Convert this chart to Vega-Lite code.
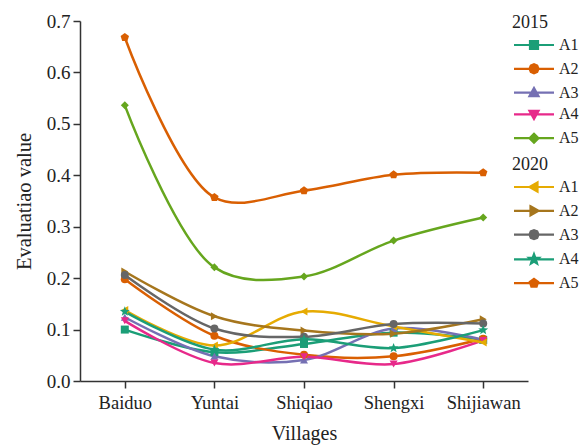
{
  "$schema": "https://vega.github.io/schema/vega-lite/v6.json",
  "width": 448,
  "height": 360,
  "autosize": {"type": "none"},
  "padding": {"left": 80, "top": 21, "right": 54, "bottom": 66},
  "background": "white",
  "config": {
    "view": {"stroke": null},
    "font": "Liberation Serif, Times New Roman, serif",
    "axis": {
      "labelFont": "Liberation Serif, Times New Roman, serif",
      "titleFont": "Liberation Serif, Times New Roman, serif",
      "labelColor": "#222",
      "titleColor": "#222",
      "titleFontWeight": "normal",
      "domainColor": "#333",
      "tickColor": "#333",
      "domainWidth": 1.5,
      "tickWidth": 1.5,
      "grid": false
    },
    "legend": {
      "titleFont": "Liberation Serif, Times New Roman, serif",
      "labelFont": "Liberation Serif, Times New Roman, serif",
      "titleFontWeight": "normal",
      "titleColor": "#222",
      "labelColor": "#222"
    }
  },
  "data": {
    "values": [
      {"village": "Baiduo", "year": 2015, "series": "A1", "value": 0.100},
      {"village": "Yuntai", "year": 2015, "series": "A1", "value": 0.056},
      {"village": "Shiqiao", "year": 2015, "series": "A1", "value": 0.072},
      {"village": "Shengxi", "year": 2015, "series": "A1", "value": 0.094},
      {"village": "Shijiawan", "year": 2015, "series": "A1", "value": 0.080},
      {"village": "Baiduo", "year": 2015, "series": "A2", "value": 0.198},
      {"village": "Yuntai", "year": 2015, "series": "A2", "value": 0.088},
      {"village": "Shiqiao", "year": 2015, "series": "A2", "value": 0.051},
      {"village": "Shengxi", "year": 2015, "series": "A2", "value": 0.048},
      {"village": "Shijiawan", "year": 2015, "series": "A2", "value": 0.082},
      {"village": "Baiduo", "year": 2015, "series": "A3", "value": 0.124},
      {"village": "Yuntai", "year": 2015, "series": "A3", "value": 0.048},
      {"village": "Shiqiao", "year": 2015, "series": "A3", "value": 0.041},
      {"village": "Shengxi", "year": 2015, "series": "A3", "value": 0.102},
      {"village": "Shijiawan", "year": 2015, "series": "A3", "value": 0.080},
      {"village": "Baiduo", "year": 2015, "series": "A4", "value": 0.117},
      {"village": "Yuntai", "year": 2015, "series": "A4", "value": 0.035},
      {"village": "Shiqiao", "year": 2015, "series": "A4", "value": 0.047},
      {"village": "Shengxi", "year": 2015, "series": "A4", "value": 0.033},
      {"village": "Shijiawan", "year": 2015, "series": "A4", "value": 0.079},
      {"village": "Baiduo", "year": 2015, "series": "A5", "value": 0.536},
      {"village": "Yuntai", "year": 2015, "series": "A5", "value": 0.221},
      {"village": "Shiqiao", "year": 2015, "series": "A5", "value": 0.203},
      {"village": "Shengxi", "year": 2015, "series": "A5", "value": 0.273},
      {"village": "Shijiawan", "year": 2015, "series": "A5", "value": 0.318},
      {"village": "Baiduo", "year": 2020, "series": "A1", "value": 0.138},
      {"village": "Yuntai", "year": 2020, "series": "A1", "value": 0.069},
      {"village": "Shiqiao", "year": 2020, "series": "A1", "value": 0.135},
      {"village": "Shengxi", "year": 2020, "series": "A1", "value": 0.106},
      {"village": "Shijiawan", "year": 2020, "series": "A1", "value": 0.075},
      {"village": "Baiduo", "year": 2020, "series": "A2", "value": 0.213},
      {"village": "Yuntai", "year": 2020, "series": "A2", "value": 0.126},
      {"village": "Shiqiao", "year": 2020, "series": "A2", "value": 0.098},
      {"village": "Shengxi", "year": 2020, "series": "A2", "value": 0.092},
      {"village": "Shijiawan", "year": 2020, "series": "A2", "value": 0.120},
      {"village": "Baiduo", "year": 2020, "series": "A3", "value": 0.206},
      {"village": "Yuntai", "year": 2020, "series": "A3", "value": 0.102},
      {"village": "Shiqiao", "year": 2020, "series": "A3", "value": 0.086},
      {"village": "Shengxi", "year": 2020, "series": "A3", "value": 0.111},
      {"village": "Shijiawan", "year": 2020, "series": "A3", "value": 0.112},
      {"village": "Baiduo", "year": 2020, "series": "A4", "value": 0.135},
      {"village": "Yuntai", "year": 2020, "series": "A4", "value": 0.061},
      {"village": "Shiqiao", "year": 2020, "series": "A4", "value": 0.081},
      {"village": "Shengxi", "year": 2020, "series": "A4", "value": 0.064},
      {"village": "Shijiawan", "year": 2020, "series": "A4", "value": 0.099},
      {"village": "Baiduo", "year": 2020, "series": "A5", "value": 0.668},
      {"village": "Yuntai", "year": 2020, "series": "A5", "value": 0.357},
      {"village": "Shiqiao", "year": 2020, "series": "A5", "value": 0.370},
      {"village": "Shengxi", "year": 2020, "series": "A5", "value": 0.401},
      {"village": "Shijiawan", "year": 2020, "series": "A5", "value": 0.405}
    ]
  },
  "encoding": {
    "x": {
      "field": "village",
      "type": "ordinal",
      "scale": {"type": "point", "domain": ["Baiduo", "Yuntai", "Shiqiao", "Shengxi", "Shijiawan"], "padding": 0.5},
      "axis": {"title": "Villages", "labelAngle": 0, "labelFontSize": 18.5, "titleFontSize": 20, "tickSize": 7, "labelPadding": 5, "titlePadding": 12}
    },
    "y": {
      "field": "value",
      "type": "quantitative",
      "scale": {"domain": [0, 0.7], "nice": false},
      "axis": {"title": "Evaluatiao value", "values": [0, 0.1, 0.2, 0.3, 0.4, 0.5, 0.6, 0.7], "format": ".1f", "labelFontSize": 19, "titleFontSize": 20.5, "tickSize": 7, "labelPadding": 3, "titlePadding": 12}
    }
  },
  "layer": [
    {
      "transform": [{"filter": "datum.year == 2015"}],
      "layer": [
        {
          "mark": {"type": "line", "interpolate": "catmull-rom", "strokeWidth": 2.5},
          "encoding": {
            "color": {
              "field": "series",
              "type": "nominal",
              "scale": {"domain": ["A1", "A2", "A3", "A4", "A5"], "range": ["#1b9e77", "#d95f02", "#7570b3", "#e7298a", "#66a61e"]},
              "legend": {
                "title": "2015",
                "orient": "none",
                "legendX": 432,
                "legendY": -7,
                "titleFontSize": 18,
                "labelFontSize": 16,
                "symbolSize": 100,
                "symbolOffset": 14,
                "labelOffset": 17,
                "rowPadding": 5.8,
                "titlePadding": 5,
                "encode": {
                  "symbols": {
                    "update": {
                      "shape": {"signal": "datum.value === 'A1' ? 'M-4,0H4M-0.8,-0.8H0.8V0.8H-0.8Z' : datum.value === 'A2' ? 'M-4,0H4M0.9,0L0.64,0.64L0,0.9L-0.64,0.64L-0.9,0L-0.64,-0.64L0,-0.9L0.64,-0.64Z' : datum.value === 'A3' ? 'M-4,0H4M-0.9,0.7L0,-0.9L0.9,0.7Z' : datum.value === 'A4' ? 'M-4,0H4M-0.9,-0.7L0,0.9L0.9,-0.7Z' : 'M-4,0H4M0,-0.9L0.9,0L0,0.9L-0.9,0Z'"},
                      "fill": {"signal": "datum.value === 'A1' ? '#1b9e77' : datum.value === 'A2' ? '#d95f02' : datum.value === 'A3' ? '#7570b3' : datum.value === 'A4' ? '#e7298a' : '#66a61e'"},
                      "stroke": {"signal": "datum.value === 'A1' ? '#1b9e77' : datum.value === 'A2' ? '#d95f02' : datum.value === 'A3' ? '#7570b3' : datum.value === 'A4' ? '#e7298a' : '#66a61e'"},
                      "strokeWidth": {"value": 2.2},
                      "opacity": {"value": 1}
                    }
                  }
                }
              }
            }
          }
        },
        {
          "mark": {"type": "point", "filled": true, "size": 64, "opacity": 1},
          "encoding": {
            "color": {
              "field": "series",
              "type": "nominal",
              "scale": {"domain": ["A1", "A2", "A3", "A4", "A5"], "range": ["#1b9e77", "#d95f02", "#7570b3", "#e7298a", "#66a61e"]},
              "legend": null
            },
            "shape": {
              "field": "series",
              "type": "nominal",
              "scale": {"domain": ["A1", "A2", "A3", "A4", "A5"], "range": ["square", "circle", "triangle-up", "triangle-down", "diamond"]},
              "legend": null
            }
          }
        }
      ],
      "resolve": {"scale": {"color": "independent"}}
    },
    {
      "transform": [{"filter": "datum.year == 2020"}],
      "layer": [
        {
          "mark": {"type": "line", "interpolate": "catmull-rom", "strokeWidth": 2.5},
          "encoding": {
            "color": {
              "field": "series",
              "type": "nominal",
              "scale": {"domain": ["A1", "A2", "A3", "A4", "A5"], "range": ["#e6ab02", "#a6761d", "#666666", "#1b9e77", "#d95f02"]},
              "legend": {
                "title": "2020",
                "orient": "none",
                "legendX": 432,
                "legendY": 135,
                "titleFontSize": 18,
                "labelFontSize": 16,
                "symbolSize": 100,
                "symbolOffset": 14,
                "labelOffset": 17,
                "rowPadding": 5.8,
                "titlePadding": 5,
                "encode": {
                  "symbols": {
                    "update": {
                      "shape": {"signal": "datum.value === 'A1' ? 'M-4,0H4M0.7,-0.9L-0.9,0L0.7,0.9Z' : datum.value === 'A2' ? 'M-4,0H4M-0.7,-0.9L0.9,0L-0.7,0.9Z' : datum.value === 'A3' ? 'M-4,0H4M0.9,0L0.64,0.64L0,0.9L-0.64,0.64L-0.9,0L-0.64,-0.64L0,-0.9L0.64,-0.64Z' : datum.value === 'A4' ? 'M-4,0H4M0,-1.04L0.26,-0.36L0.99,-0.32L0.42,0.14L0.61,0.84L0,0.44L-0.61,0.84L-0.42,0.14L-0.99,-0.32L-0.26,-0.36Z' : 'M-4,0H4M0,-0.88L0.84,-0.27L0.52,0.71L-0.52,0.71L-0.84,-0.27Z'"},
                      "fill": {"signal": "datum.value === 'A1' ? '#e6ab02' : datum.value === 'A2' ? '#a6761d' : datum.value === 'A3' ? '#666666' : datum.value === 'A4' ? '#1b9e77' : '#d95f02'"},
                      "stroke": {"signal": "datum.value === 'A1' ? '#e6ab02' : datum.value === 'A2' ? '#a6761d' : datum.value === 'A3' ? '#666666' : datum.value === 'A4' ? '#1b9e77' : '#d95f02'"},
                      "strokeWidth": {"value": 2.2},
                      "opacity": {"value": 1}
                    }
                  }
                }
              }
            }
          }
        },
        {
          "mark": {"type": "point", "filled": true, "size": 64, "opacity": 1},
          "encoding": {
            "color": {
              "field": "series",
              "type": "nominal",
              "scale": {"domain": ["A1", "A2", "A3", "A4", "A5"], "range": ["#e6ab02", "#a6761d", "#666666", "#1b9e77", "#d95f02"]},
              "legend": null
            },
            "shape": {
              "field": "series",
              "type": "nominal",
              "scale": {"domain": ["A1", "A2", "A3", "A4", "A5"], "range": ["triangle-left", "triangle-right", "circle", "M0,-1.3L0.32,-0.45L1.24,-0.4L0.52,0.17L0.76,1.05L0,0.55L-0.76,1.05L-0.52,0.17L-1.24,-0.4L-0.32,-0.45Z", "M0,-1.1L1.05,-0.34L0.65,0.89L-0.65,0.89L-1.05,-0.34Z"]},
              "legend": null
            }
          }
        }
      ],
      "resolve": {"scale": {"color": "independent"}}
    }
  ],
  "resolve": {"scale": {"color": "independent", "shape": "independent"}}
}
